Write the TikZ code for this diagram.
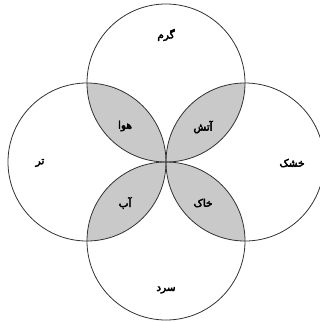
\documentclass[tikz,border=0pt]{standalone}
\usepackage{fontspec}
\newfontfamily\arabicfont[Script=Arabic,FakeBold=4]{DejaVu Sans}
\TeXXeTstate=1
\tikzset{
  ring/.style={draw=black!80, line width=0.8pt},
  lens/.style={fill=gray!42},
  lbl/.style={font=\arabicfont\fontsize{10.5}{12}\selectfont, text=black, inner sep=0pt}
}
\newcommand{\rtl}[1]{\beginR #1\endR}
\begin{document}
\begin{tikzpicture}[x=1pt,y=-1pt]
\useasboundingbox (0,0) rectangle (320,322);
\fill[white] (0,0) rectangle (320,322);
\clip (0,0) rectangle (320,322);
\def\R{79}
\coordinate (T) at (166,83);
\coordinate (L) at (87,162);
\coordinate (Rt) at (245,162);
\coordinate (B) at (166,241);
% lenses
\begin{scope}\clip (T) circle (\R); \fill[lens] (L) circle (\R);\end{scope}
\begin{scope}\clip (T) circle (\R); \fill[lens] (Rt) circle (\R);\end{scope}
\begin{scope}\clip (B) circle (\R); \fill[lens] (L) circle (\R);\end{scope}
\begin{scope}\clip (B) circle (\R); \fill[lens] (Rt) circle (\R);\end{scope}
% circles
\draw[ring] (T) circle (\R);
\draw[ring] (L) circle (\R);
\draw[ring] (Rt) circle (\R);
\draw[ring] (B) circle (\R);
% labels
\node[lbl] (garm) at (166,35) {\rtl{گرم}};
\node[lbl] (tar) at (40,163) {\rtl{تر}};
\node[lbl] (khoshk) at (292,163) {\rtl{خشک}};
\node[lbl] (sard) at (166,290) {\rtl{سرد}};
\node[lbl] (hava) at (125,126) {\rtl{هوا}};
\node[lbl] (atash) at (203,127) {\rtl{آتش}};
\node[lbl] (ab) at (125,203) {\rtl{آب}};
\node[lbl] (khak) at (203,203) {\rtl{خاک}};
\end{tikzpicture}
\end{document}
